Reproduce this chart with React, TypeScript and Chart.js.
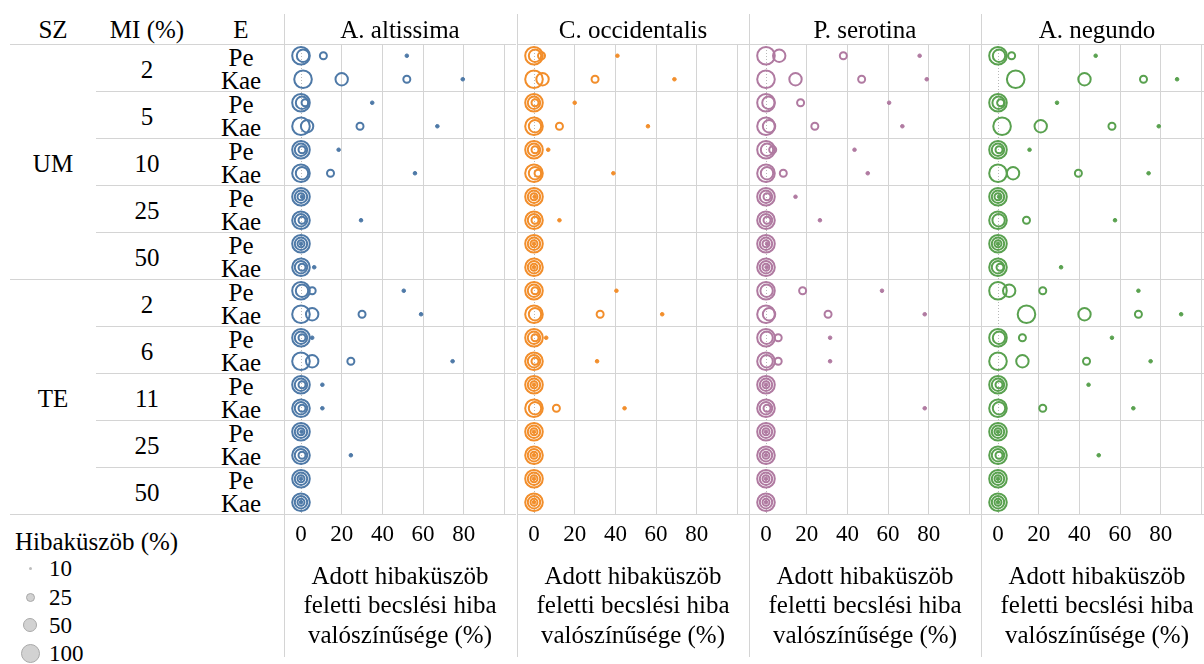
import React, { useEffect, useRef } from 'react';
import { Chart, registerables } from 'chart.js';
Chart.register(...registerables);

// ---------- data ----------
const SPECIES = ['A. altissima', 'C. occidentalis', 'P. serotina', 'A. negundo'];
const COLORS = ['#4e79a7', '#f28e2b', '#b07aa1', '#59a14f'];
const SZ_LABELS = ['UM', 'TE'];
const MI_UM = ['2', '5', '10', '25', '50'];
const MI_TE = ['2', '6', '11', '25', '50'];
const E_LABELS = ['Pe', 'Kae'];
const THRESHOLDS = ['10', '25', '50', '100'];
const X_TICKS = [0, 20, 40, 60, 80, 100];
const X_TITLE = ['Adott hibaküszöb', 'feletti becslési hiba', 'valószínűsége (%)'];
const LEGEND_TITLE = 'Hibaküszöb (%)';

// rows: UM2 Pe, UM2 Kae, UM5 Pe, UM5 Kae, UM10.., UM25.., UM50.., TE2.., TE6.., TE11.., TE25.., TE50..
const ALT_P10 = [52, 79.5, 35, 67, 18.5, 56, 0.5, 29.5, 0, 6.5, 50.5, 59, 5.5, 74.5, 10.5, 10.5, 0.3, 24.5, 0, 0];
const ALT_P25 = [11, 52, 2, 29, 0.5, 14.5, 0, 0.5, 0, 0.5, 5.5, 30, 0.5, 24.5, 0.5, 0.5, 0, 0.5, 0, 0];
const ALT_P50 = [1, 20, 0.5, 3, 0, 0.5, 0, 0, 0, 0, 0.5, 5.5, 0, 5.5, 0, 0, 0, 0, 0, 0];
const ALT_P100 = [0, 1, 0, 0, 0, 0, 0, 0, 0, 0, 0, 0, 0, 0, 0, 0, 0, 0, 0, 0];

const OCC_P10 = [41, 69, 20, 56, 7, 39, 0.3, 12.5, 0, 0, 40.5, 63, 6, 31, 0, 44.5, 0, 0, 0, 0];
const OCC_P25 = [3.7, 30, 0.5, 12.5, 0.5, 2, 0, 0.5, 0, 0, 0.5, 32.5, 0.5, 0.5, 0, 11, 0, 0, 0, 0];
const OCC_P50 = [0.5, 4.2, 0, 0.5, 0, 0.5, 0, 0, 0, 0, 0, 0.5, 0, 0, 0, 0.5, 0, 0, 0, 0];
const OCC_P100 = [0, 0, 0, 0, 0, 0, 0, 0, 0, 0, 0, 0, 0, 0, 0, 0, 0, 0, 0, 0];

const SER_P10 = [75.5, 79, 60.5, 67, 43.5, 50, 14.5, 26.5, 0.5, 0.3, 57, 78, 31.5, 31.5, 0, 78, 0, 0, 0, 0];
const SER_P25 = [38, 47, 17, 24, 3.3, 8.5, 0.5, 0.5, 0, 0, 18, 30.5, 6, 6, 0, 0.5, 0, 0, 0, 0];
const SER_P50 = [6.5, 14.5, 1.2, 1.5, 0.5, 0.5, 0, 0, 0, 0, 0.3, 1.5, 0.3, 0.3, 0, 0, 0, 0, 0, 0];
const SER_P100 = [0, 0, 0, 0, 0, 0, 0, 0, 0, 0, 0, 0, 0, 0, 0, 0, 0, 0, 0, 0];

const NEG_P10 = [48, 88, 29, 79, 15.5, 74, 0.5, 57.5, 0, 31, 69, 90, 56, 75, 44.5, 66.5, 0, 49.5, 0, 0];
const NEG_P25 = [6.7, 71.5, 1.3, 56, 0.5, 39.5, 0, 14, 0, 1, 22, 69, 12, 43.5, 0.5, 22, 0, 0.5, 0, 0];
const NEG_P50 = [0.5, 42.5, 0.3, 21, 0, 7.4, 0, 0.3, 0, 0, 5.5, 42.5, 0.5, 12, 0, 0.5, 0, 0, 0, 0];
const NEG_P100 = [0, 8.7, 0, 2, 0, 0, 0, 0, 0, 0, 0, 14, 0, 0, 0, 0, 0, 0, 0, 0];

const SERIES = [
  [ALT_P10, ALT_P25, ALT_P50, ALT_P100],
  [OCC_P10, OCC_P25, OCC_P50, OCC_P100],
  [SER_P10, SER_P25, SER_P50, SER_P100],
  [NEG_P10, NEG_P25, NEG_P50, NEG_P100],
];

// ---------- styles / layout ----------
const FONT = "'Liberation Serif', 'Times New Roman', serif";
const GRID = '#d4d4d4';
const RADII = [1.8, 3.5, 6.2, 8.8];
const BORDERS = [1, 2, 2, 2];
const PANEL_LEFT = [284, 517, 749, 981];
const PANEL_W = 232;
const TOP = 44;
const ROW_H = 23.5;
const MI_ALL = [...MI_UM, ...MI_TE];
const N_ROWS = MI_ALL.length * E_LABELS.length;
const Y_BOUNDS = Array.from({ length: MI_ALL.length + 1 }, (_, i) => i * 2);

const zeroLine = {
  id: 'zeroLine',
  beforeDatasetsDraw(chart: any) {
    const { ctx, chartArea, scales } = chart;
    const x = Math.round(scales.x.getPixelForValue(0)) + 0.5;
    ctx.save();
    ctx.strokeStyle = '#b8b8b8';
    ctx.lineWidth = 1;
    ctx.setLineDash([1, 2]);
    ctx.beginPath();
    ctx.moveTo(x, chartArea.top);
    ctx.lineTo(x, chartArea.bottom);
    ctx.stroke();
    ctx.restore();
  },
};

function Panel({ idx }: { idx: number }) {
  const ref = useRef<HTMLCanvasElement>(null);
  useEffect(() => {
    const color = COLORS[idx];
    const datasets = SERIES[idx].map((vals, t) => ({
      label: THRESHOLDS[t],
      data: vals.map((v, r) => ({ x: v, y: r + 0.5 })),
      pointRadius: RADII[t],
      pointHoverRadius: RADII[t],
      pointBorderWidth: BORDERS[t],
      borderColor: color,
      pointBorderColor: color,
      pointBackgroundColor: t === 0 ? color : 'rgba(0,0,0,0)',
      backgroundColor: t === 0 ? color : 'rgba(0,0,0,0)',
      showLine: false,
      clip: false,
    }));
    const chart = new Chart(ref.current as HTMLCanvasElement, {
      type: 'scatter',
      data: { datasets },
      options: {
        animation: false,
        responsive: false,
        maintainAspectRatio: false,
        devicePixelRatio: 1,
        layout: { autoPadding: false, padding: { top: 2, left: 0, right: 0, bottom: 0 } },
        plugins: { legend: { display: false }, tooltip: { enabled: false } },
        scales: {
          x: {
            type: 'linear',
            position: 'bottom',
            min: -8.35,
            max: 105.65,
            afterBuildTicks: (s: any) => {
              s.ticks = X_TICKS.map((v) => ({ value: v }));
            },
            afterFit: (s: any) => {
              s.height = 150;
              s.paddingLeft = 0;
              s.paddingRight = 0;
            },
            grid: {
              color: (c: any) => (c.tick && c.tick.value === 0 ? 'rgba(0,0,0,0)' : GRID),
              drawTicks: false,
              lineWidth: 1,
            },
            border: { display: false },
            ticks: {
              padding: 7,
              color: '#000',
              autoSkip: false,
              maxRotation: 0,
              font: { family: FONT, size: 23 },
              callback: (v: any) => (v === 100 ? '' : String(v)),
            },
            title: {
              display: true,
              text: X_TITLE,
              color: '#000',
              font: { family: FONT, size: 25, lineHeight: 1.18 },
              padding: { top: 0, bottom: 13 },
            },
          },
          y: {
            type: 'linear',
            min: 0,
            max: N_ROWS,
            reverse: true,
            afterBuildTicks: (s: any) => {
              s.ticks = Y_BOUNDS.map((v) => ({ value: v }));
            },
            afterFit: (s: any) => {
              s.width = 0;
              s.paddingTop = 0;
              s.paddingBottom = 0;
            },
            ticks: { display: false },
            grid: { color: GRID, drawTicks: false, lineWidth: 1 },
            border: { display: false },
          },
        },
      } as any,
      plugins: [zeroLine],
    });
    return () => chart.destroy();
  }, [idx]);
  return (
    <canvas
      ref={ref}
      width={PANEL_W}
      height={622}
      style={{ position: 'absolute', left: PANEL_LEFT[idx], top: 42, width: PANEL_W, height: 622 }}
    />
  );
}

function Label({ x, y, text, size = 25, align = 'center' }: any) {
  return (
    <div
      style={{
        position: 'absolute',
        left: x,
        top: y,
        transform: align === 'center' ? 'translate(-50%, -50%)' : 'translate(0, -50%)',
        fontSize: size,
        lineHeight: 1,
        whiteSpace: 'nowrap',
        color: '#000',
      }}
    >
      {text}
    </div>
  );
}

function HLine({ x1, x2, y }: any) {
  return <div style={{ position: 'absolute', left: x1, top: y, width: x2 - x1, height: 1, background: GRID }} />;
}
function VLine({ x, y1, y2 }: any) {
  return <div style={{ position: 'absolute', left: x, top: y1, width: 1, height: y2 - y1, background: GRID }} />;
}

export default function App() {
  const groupLines = Y_BOUNDS.map((b, i) => {
    const y = TOP + b * ROW_H;
    const full = i === 0 || i === MI_UM.length || i === MI_ALL.length;
    return <HLine key={'h' + i} x1={full ? 10 : 96} x2={PANEL_LEFT[0]} y={y} />;
  });
  const legendY = [568, 597, 625, 653];
  const legendD = [3, 9, 14, 19];
  return (
    <div
      style={{
        position: 'absolute',
        left: 0,
        top: 0,
        width: 1204,
        height: 664,
        overflow: 'hidden',
        background: '#fff',
        fontFamily: FONT,
      }}
    >
      {groupLines}
      {PANEL_LEFT.map((x, i) => (
        <VLine key={'v' + i} x={x} y1={14} y2={657} />
      ))}
      {SPECIES.map((_, i) => (
        <Panel key={'p' + i} idx={i} />
      ))}
      <Label x={53} y={29} text="SZ" />
      <Label x={147} y={29} text="MI (%)" />
      <Label x={241} y={29} text="E" />
      {SPECIES.map((s, i) => (
        <Label key={'s' + i} x={PANEL_LEFT[i] + PANEL_W / 2} y={29} text={s} />
      ))}
      {SZ_LABELS.map((s, i) => (
        <Label key={'sz' + i} x={53} y={TOP + (i + 0.5) * MI_UM.length * 2 * ROW_H + 1} text={s} />
      ))}
      {MI_ALL.map((m, g) => (
        <Label key={'mi' + g} x={147} y={TOP + (g * 2 + 1) * ROW_H + 1} text={m} />
      ))}
      {Array.from({ length: N_ROWS }, (_, r) => (
        <Label key={'e' + r} x={241} y={TOP + (r + 0.5) * ROW_H + 1} text={E_LABELS[r % 2]} />
      ))}
      <Label x={15} y={541} text={LEGEND_TITLE} align="left" />
      {THRESHOLDS.map((t, i) => (
        <React.Fragment key={'lg' + i}>
          <div
            style={{
              position: 'absolute',
              left: 30 - legendD[i] / 2,
              top: legendY[i] - legendD[i] / 2,
              width: legendD[i],
              height: legendD[i],
              borderRadius: '50%',
              background: i === 0 ? '#bdbdbd' : '#d2d2d2',
              boxSizing: 'border-box',
              border: i === 0 ? 'none' : '1px solid #a9a9a9',
            }}
          />
          <Label x={49} y={legendY[i]} text={t} size={23} align="left" />
        </React.Fragment>
      ))}
    </div>
  );
}
